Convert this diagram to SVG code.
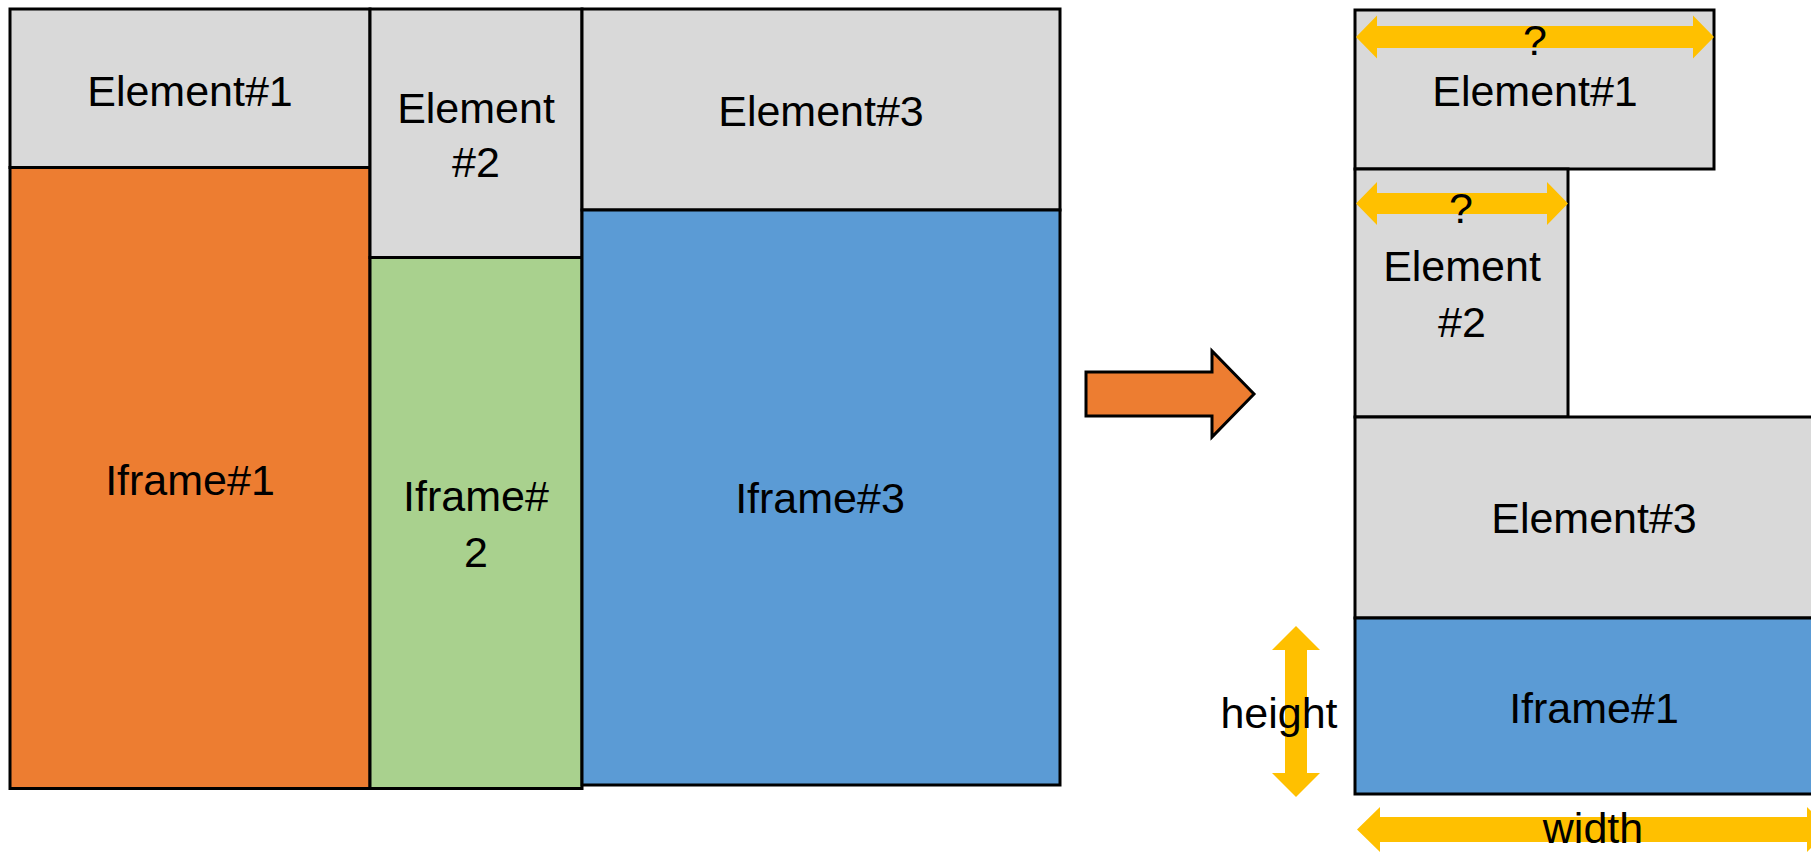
<svg xmlns="http://www.w3.org/2000/svg" width="1811" height="853" viewBox="0 0 1811 853">
  <style>
    .box { stroke: #000; stroke-width: 3; }
    .el { fill: #D9D9D9; }
    .orange { fill: #ED7D31; }
    .green { fill: #A9D18E; }
    .blue { fill: #5B9BD5; }
    .dim { fill: #FFC000; stroke: none; }
    text { font-family: "Liberation Sans", Arial, sans-serif; font-size: 43px; fill: #000; text-anchor: middle; }
  </style>

  <!-- Before: page with three element/iframe pairs side by side -->
  <g id="left-element-1">
    <rect class="box el" x="10" y="9" width="360" height="158.5"/>
    <text x="190" y="106">Element#1</text>
  </g>
  <g id="left-iframe-1">
    <rect class="box orange" x="10" y="167.5" width="360" height="621"/>
    <text x="190" y="495">Iframe#1</text>
  </g>
  <g id="left-element-2">
    <rect class="box el" x="370" y="9" width="212" height="248.5"/>
    <text x="476" y="123">Element</text>
    <text x="476" y="177">#2</text>
  </g>
  <g id="left-iframe-2">
    <rect class="box green" x="370" y="257.5" width="212" height="531"/>
    <text x="476" y="511">Iframe#</text>
    <text x="476" y="567">2</text>
  </g>
  <g id="left-element-3">
    <rect class="box el" x="582" y="9" width="478" height="201"/>
    <text x="821" y="126">Element#3</text>
  </g>
  <g id="left-iframe-3">
    <rect class="box blue" x="582" y="210" width="478" height="575"/>
    <text x="820" y="513">Iframe#3</text>
  </g>

  <!-- Transition arrow -->
  <g id="transition-arrow">
    <path class="orange" stroke="#000" stroke-width="3" stroke-linejoin="miter" d="M1086,372 L1212,372 L1212,351 L1254,394 L1212,437 L1212,416 L1086,416 Z"/>
  </g>

  <!-- After: stacked layout -->
  <g id="right-element-1">
    <rect class="box el" x="1355" y="10" width="359" height="159"/>
    <text x="1535" y="106">Element#1</text>
  </g>
  <g id="right-element-2">
    <rect class="box el" x="1355" y="169" width="213" height="248"/>
    <text x="1462" y="281">Element</text>
    <text x="1462" y="337">#2</text>
  </g>
  <g id="right-element-3">
    <rect class="box el" x="1355" y="417" width="478" height="201"/>
    <text x="1594" y="533">Element#3</text>
  </g>
  <g id="right-iframe-1">
    <rect class="box blue" x="1355" y="618" width="478" height="176"/>
    <text x="1594" y="723">Iframe#1</text>
  </g>

  <!-- Dimension arrows and their labels -->
  <g id="connectors">
    <path class="dim" d="M1356,37 L1377,15.5 L1377,26 L1693,26 L1693,15.5 L1714,37 L1693,58.5 L1693,48 L1377,48 L1377,58.5 Z"/>
    <text x="1535" y="55">?</text>
    <path class="dim" d="M1356,203.5 L1377,182 L1377,193 L1547,193 L1547,182 L1568,203.5 L1547,225 L1547,214 L1377,214 L1377,225 Z"/>
    <text x="1461" y="223">?</text>
    <path class="dim" d="M1296,626 L1320,650 L1307,650 L1307,773 L1320,773 L1296,797 L1272,773 L1285,773 L1285,650 L1272,650 Z"/>
    <text x="1279" y="728">height</text>
    <path class="dim" d="M1357,829.5 L1380,807 L1380,817 L1807,817 L1807,807 L1830,829.5 L1807,852 L1807,842 L1380,842 L1380,852 Z"/>
    <text x="1593" y="843">width</text>
  </g>
</svg>
